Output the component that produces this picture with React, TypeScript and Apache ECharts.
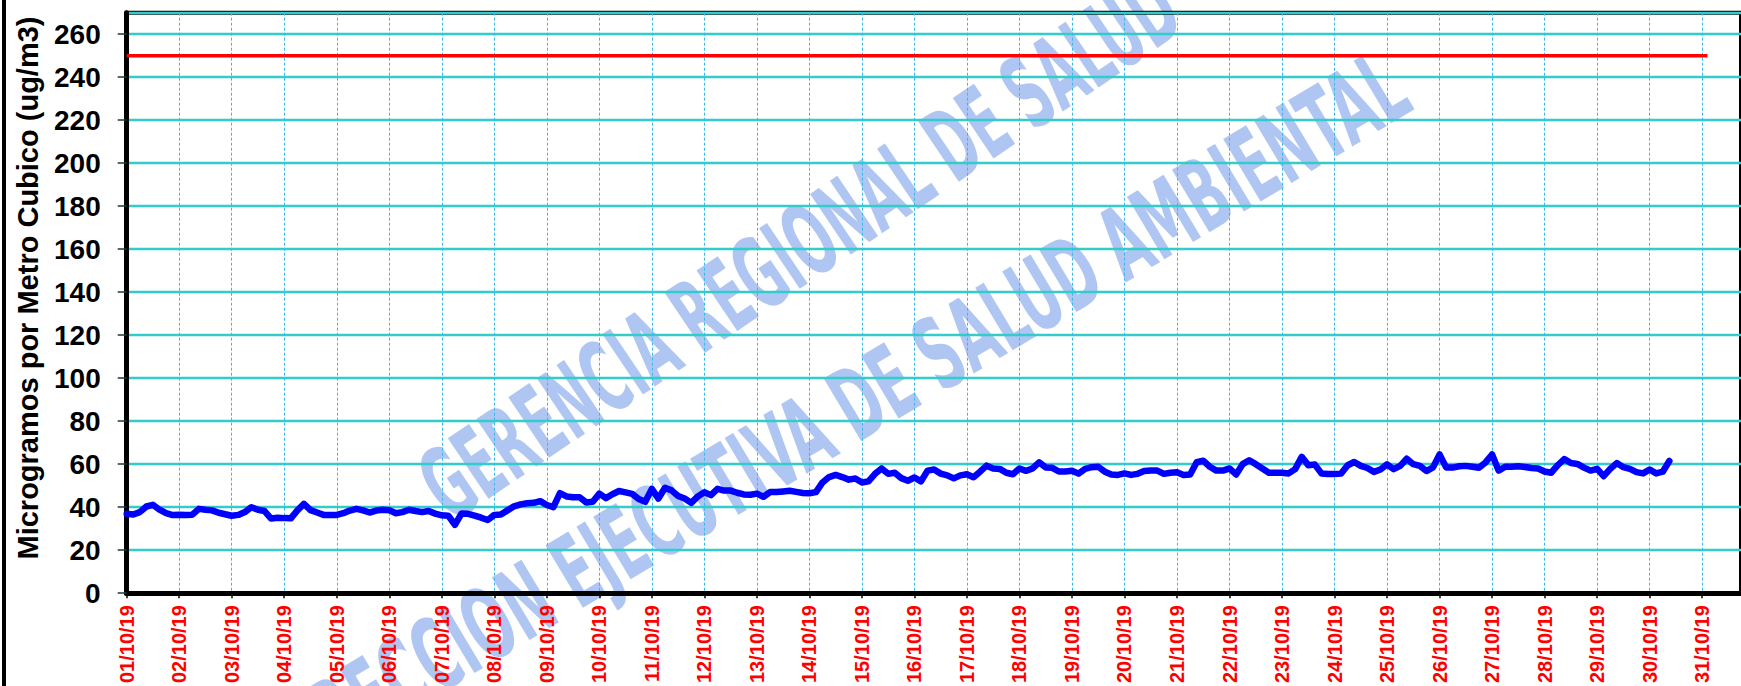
import React, { useEffect, useRef } from "react";
import * as echarts from "echarts";

// ---------- data ----------
const Y_TITLE = "Microgramos por Metro Cubico (ug/m3)";
const DATE_SUFFIX = "/10/19";
const Y_MIN = 0;
const Y_MAX = 270;
const Y_STEP = 20;
const X_MAX_DAYS = 30.74; // visible extent of the time axis (days after 01/10/19 00:00)
const STEP_HOURS = 3; // one reading every 3 hours, starting 01/10/19 00:00
const PM_VALUES = [
  36.9, 36.6, 37.7, 40.3, 41.1, 38.8, 37.2, 36.3, 36.5, 36.3,
  36.5, 39.2, 38.8, 38.5, 37.4, 36.7, 36.0, 36.4, 37.7, 40.0,
  38.8, 38.2, 34.7, 35.1, 34.9, 34.8, 38.5, 41.5, 38.6, 37.5,
  36.4, 36.4, 36.4, 37.2, 38.4, 39.2, 38.5, 37.5, 38.4, 38.8,
  38.6, 37.2, 37.7, 38.8, 38.2, 37.7, 38.2, 37.0, 36.2, 36.0,
  31.8, 37.0, 36.9, 36.1, 35.1, 34.0, 36.4, 36.6, 38.5, 40.4,
  41.3, 41.8, 42.0, 42.8, 41.0, 40.0, 46.5, 45.0, 44.6, 44.6,
  42.2, 42.5, 46.3, 44.2, 46.0, 47.5, 46.9, 46.2, 43.8, 42.5,
  48.5, 44.0, 49.0, 47.8, 45.2, 44.0, 42.0, 45.0, 46.9, 45.6,
  48.5, 47.7, 47.7, 46.7, 45.9, 45.8, 46.3, 44.8, 47.0, 47.0,
  47.3, 47.6, 47.1, 46.6, 46.5, 47.0, 51.5, 54.0, 55.0, 54.0,
  52.8, 53.3, 51.5, 52.0, 55.5, 58.0, 55.5, 56.0, 53.5, 52.3,
  53.8, 52.0, 57.0, 57.5, 55.6, 54.8, 53.4, 54.8, 55.3, 53.9,
  56.5, 59.3, 58.0, 57.8, 56.0, 55.3, 58.0, 56.9, 58.0, 60.8,
  58.5, 58.3, 56.6, 56.6, 56.9, 55.6, 57.8, 58.6, 58.8, 56.5,
  55.2, 55.0, 55.7, 55.0, 55.5, 56.8, 57.0, 57.0, 55.5, 56.0,
  56.2, 55.0, 55.2, 60.9, 61.6, 58.8, 57.0, 57.0, 58.0, 55.2,
  60.0, 61.8, 60.0, 58.0, 56.0, 56.0, 56.0, 55.7, 57.7, 63.4,
  59.5, 59.8, 55.7, 55.4, 55.4, 55.6, 59.5, 61.0, 59.2, 58.2,
  56.4, 57.5, 59.9, 57.7, 59.2, 62.5, 60.0, 59.2, 56.8, 58.5,
  64.5, 58.5, 58.4, 59.0, 59.2, 58.8, 58.3, 60.8, 64.5, 57.0,
  58.8, 58.8, 59.0, 58.7, 58.2, 58.0, 56.6, 56.0, 59.5, 62.4,
  60.5, 60.1, 58.4, 57.0, 57.8, 54.4, 57.8, 60.5, 58.6, 57.8,
  56.3, 55.7, 57.5, 55.7, 56.5, 61.5,
];
const LIMIT_VALUE = 250;
const LIMIT_END_DAY = 30.1;
const WATERMARK_1 = "GERENCIA REGIONAL DE SALUD";
const WATERMARK_2 = "DIRECCION EJECUTIVA DE SALUD AMBIENTAL";

// ---------- style ----------
const FONT = "'Liberation Sans', Arial, Helvetica, sans-serif";
const WM_FONT_FAMILY = "'DejaVu Sans Condensed', 'DejaVu Sans', sans-serif";
const WM_FONT_SIZE = 100;

function measure(text: string, font: string): number {
  const c = document.createElement("canvas");
  const ctx = c.getContext("2d");
  if (!ctx) return text.length * 50;
  ctx.font = font;
  return ctx.measureText(text).width;
}

export default function App() {
  const ref = useRef<HTMLDivElement>(null);

  useEffect(() => {
    if (!ref.current) return;
    const chart = echarts.init(ref.current, undefined, { renderer: "svg" });

    const wmFont = `bold ${WM_FONT_SIZE}px ${WM_FONT_FAMILY}`;
    const w1 = measure(WATERMARK_1, wmFont);
    const w2 = measure(WATERMARK_2, wmFont);
    const wmFill = "rgba(95,142,232,0.5)";

    const lineData = PM_VALUES.map((v, i) => [(i * STEP_HOURS) / 24, v]);
    const limitData = [
      [0, LIMIT_VALUE],
      [LIMIT_END_DAY, LIMIT_VALUE],
    ];

    chart.setOption({
      animation: false,
      backgroundColor: "#ffffff",
      grid: {
        left: 126.7,
        top: 12.7,
        right: -4,
        bottom: 90,
        show: true,
        borderColor: "#000000",
        borderWidth: 4,
        backgroundColor: "transparent",
      },
      xAxis: {
        type: "value",
        min: 0,
        max: X_MAX_DAYS,
        interval: 1,
        axisLine: { show: true, onZero: false, lineStyle: { color: "#000000", width: 5 } },
        axisTick: { show: true, length: 5, lineStyle: { color: "#000000", width: 1.5 } },
        axisLabel: {
          rotate: 90,
          color: "#ff0000",
          fontWeight: "bold",
          fontSize: 20,
          fontFamily: FONT,
          margin: 12,
          showMaxLabel: false,
          formatter: (v: number) =>
            String(Math.round(v) + 1).padStart(2, "0") + DATE_SUFFIX,
        },
        splitLine: {
          show: true,
          lineStyle: { color: "#3ab8ea", width: 1, type: [3, 2] },
        },
      },
      yAxis: {
        type: "value",
        min: Y_MIN,
        max: Y_MAX,
        interval: Y_STEP,
        axisLine: { show: true, lineStyle: { color: "#000000", width: 5 } },
        axisTick: { show: true, length: 9, lineStyle: { color: "#1a3a3a", width: 1.5 } },
        axisLabel: {
          color: "#000000",
          fontWeight: "bold",
          fontSize: 28,
          fontFamily: FONT,
          margin: 26,
          showMaxLabel: false,
        },
        splitLine: { show: true, lineStyle: { color: "#33cccc", width: 2.4 } },
      },
      series: [
        {
          type: "line",
          name: "Límite",
          data: limitData,
          showSymbol: false,
          lineStyle: { color: "#ff0000", width: 3.6 },
          z: 4,
        },
        {
          type: "line",
          name: "PM",
          data: lineData,
          showSymbol: false,
          lineStyle: { color: "#0000ff", width: 6.5, join: "round", cap: "round" },
          z: 5,
        },
      ],
      graphic: [
        {
          type: "rect",
          shape: { x: 2, y: 0, width: 4, height: 686 },
          style: { fill: "#000000" },
          z: 10,
        },
        {
          type: "text",
          x: 27.5,
          y: 288,
          rotation: Math.PI / 2,
          style: {
            text: Y_TITLE,
            font: `bold 29px ${FONT}`,
            fill: "#000000",
            align: "center",
            verticalAlign: "middle",
          },
          z: 10,
        },
        {
          type: "text",
          x: 800,
          y: 247,
          rotation: 0.593,
          scaleX: 890 / w1,
          scaleY: 1.0,
          style: {
            text: WATERMARK_1,
            font: wmFont,
            fill: wmFill,
            align: "center",
            verticalAlign: "middle",
          },
          z: -10,
        },
        {
          type: "text",
          x: 832,
          y: 418,
          rotation: 0.54,
          scaleX: 1320 / w2,
          scaleY: 1.0,
          style: {
            text: WATERMARK_2,
            font: wmFont,
            fill: wmFill,
            align: "center",
            verticalAlign: "middle",
          },
          z: -10,
        },
      ],
    });

    return () => chart.dispose();
  }, []);

  return (
    <div
      ref={ref}
      style={{
        position: "fixed",
        left: 0,
        top: 0,
        width: 1741,
        height: 686,
        background: "#ffffff",
      }}
    />
  );
}
